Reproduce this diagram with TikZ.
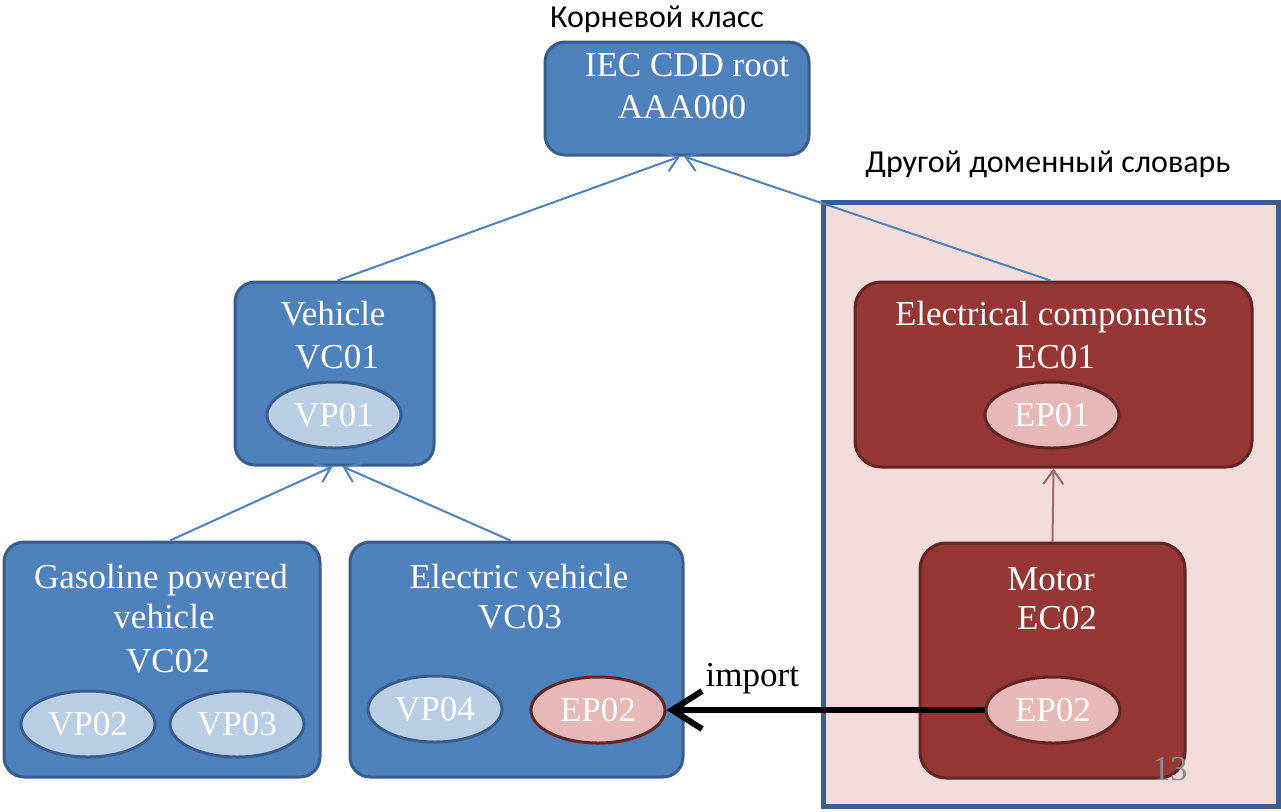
\documentclass[tikz,border=0pt]{standalone}
\usepackage{fontspec}
\setmainfont{Liberation Serif}
\newfontfamily\rufont{Carlito}
\usetikzlibrary{shapes.geometric, arrows.meta, calc}

\definecolor{bluemain}{HTML}{4F81BD}
\definecolor{bluedark}{HTML}{385D8A}
\definecolor{bluelight}{HTML}{B9CDE5}
\definecolor{redmain}{HTML}{953735}
\definecolor{reddark}{HTML}{632523}
\definecolor{redlight}{HTML}{E6B9B8}
\definecolor{domainfill}{HTML}{F2DCDB}
\definecolor{domainline}{HTML}{3B5F8A}
\definecolor{linkred}{HTML}{A0696A}

\tikzset{
    bluebox/.style={draw=bluedark, fill=bluemain, line width=1.5pt, rounded corners=10pt},
    redbox/.style={draw=reddark, fill=redmain, line width=1.5pt, rounded corners=13pt},
    blueprop/.style={ellipse, draw=bluedark, fill=bluelight, line width=1.5pt, minimum width=67pt, minimum height=33pt, inner sep=0pt, text=white, font=\bigserif},
    redprop/.style={ellipse, draw=reddark, fill=redlight, line width=1.5pt, minimum width=67pt, minimum height=33pt, inner sep=0pt, text=white, font=\bigserif},
    txt/.style={anchor=base, inner sep=0pt, text=white, font=\bigserif},
    rutxt/.style={anchor=base, inner sep=0pt, font=\rufont\fontsize{16}{19}\selectfont},
    isa/.style={draw=bluemain, line width=1pt, -{Straight Barb[length=7pt, width=10pt]}},
}
\newcommand{\bigserif}{\fontsize{17.5}{21}\selectfont}

\begin{document}
\begin{tikzpicture}[x=0.5pt, y=-0.5pt]
        \useasboundingbox (0,0) rectangle (1281,811);

        \node[draw=domainline, fill=domainfill, line width=2.5pt, minimum width=227.5pt, minimum height=302pt] (domain) at (1050.5,504) {};

        \node[bluebox, minimum width=132pt, minimum height=56.5pt] (root) at (677,98.5) {};
        \node[bluebox, minimum width=99.5pt, minimum height=91.5pt] (veh) at (334.5,373.5) {};
        \node[redbox, minimum width=198.5pt, minimum height=92.5pt] (elec) at (1053.5,374.5) {};
        \node[bluebox, minimum width=158pt, minimum height=117.5pt] (gas) at (162,659.5) {};
        \node[bluebox, minimum width=166.5pt, minimum height=117.5pt] (ev) at (516.5,659.5) {};
        \node[redbox, minimum width=132.5pt, minimum height=117.5pt] (motor) at (1052.5,660.5) {};

        \node[rutxt] (rootlbl) at (657,27) {Корневой класс};
        \node[rutxt] (domainlbl) at (1048,172) {Другой доменный словарь};

        \node[txt] (roott1) at (687,76) {IEC CDD root};
        \node[txt] (roott2) at (682,118) {AAA000};
        \node[txt] (veht1) at (333,325) {Vehicle};
        \node[txt] (veht2) at (337,368) {VC01};
        \node[txt] (elect1) at (1051,325) {Electrical components};
        \node[txt] (elect2) at (1055,368) {EC01};
        \node[txt] (gast1) at (161,588) {Gasoline powered};
        \node[txt] (gast2) at (164,628) {vehicle};
        \node[txt] (gast3) at (168,672) {VC02};
        \node[txt] (evt1) at (519,588) {Electric vehicle};
        \node[txt] (evt2) at (520,628) {VC03};
        \node[txt] (motort1) at (1051,590) {Motor};
        \node[txt] (motort2) at (1057,629) {EC02};

        \node[blueprop] (vp01) at (334,415) {VP01};
        \node[redprop] (ep01) at (1052,415) {EP01};
        \node[blueprop] (vp02) at (88,724) {VP02};
        \node[blueprop] (vp03) at (237,724) {VP03};
        \node[blueprop] (vp04) at (435,709) {VP04};
        \node[redprop] (ep02ev) at (598,710) {EP02};
        \node[redprop] (ep02motor) at (1053,710) {EP02};

        \draw[isa] ([xshift=1.5pt]veh.north) -- ([xshift=1.5pt]root.south);
        \draw[isa] ([xshift=-1.5pt]elec.north) -- ([xshift=3.5pt]root.south);
        \draw[isa] ([xshift=4pt]gas.north) -- ([xshift=-1pt]veh.south);
        \draw[isa] ([xshift=-3pt]ev.north) -- ([xshift=4pt]veh.south);
        \draw[isa, draw=linkred] (motor.north) -- (elec.south);

        \draw[line width=3pt, -{Straight Barb[length=15pt, width=19pt]}] (ep02motor.west) -- node[pos=0.73, above=12pt, anchor=base, inner sep=0pt, font=\bigserif] (importlbl) {import} (ep02ev.east);

        \node[anchor=base, inner sep=0pt, text=black!45, font=\bigserif] (pagenum) at (1170,780) {13};
    \end{tikzpicture}
\end{document}
